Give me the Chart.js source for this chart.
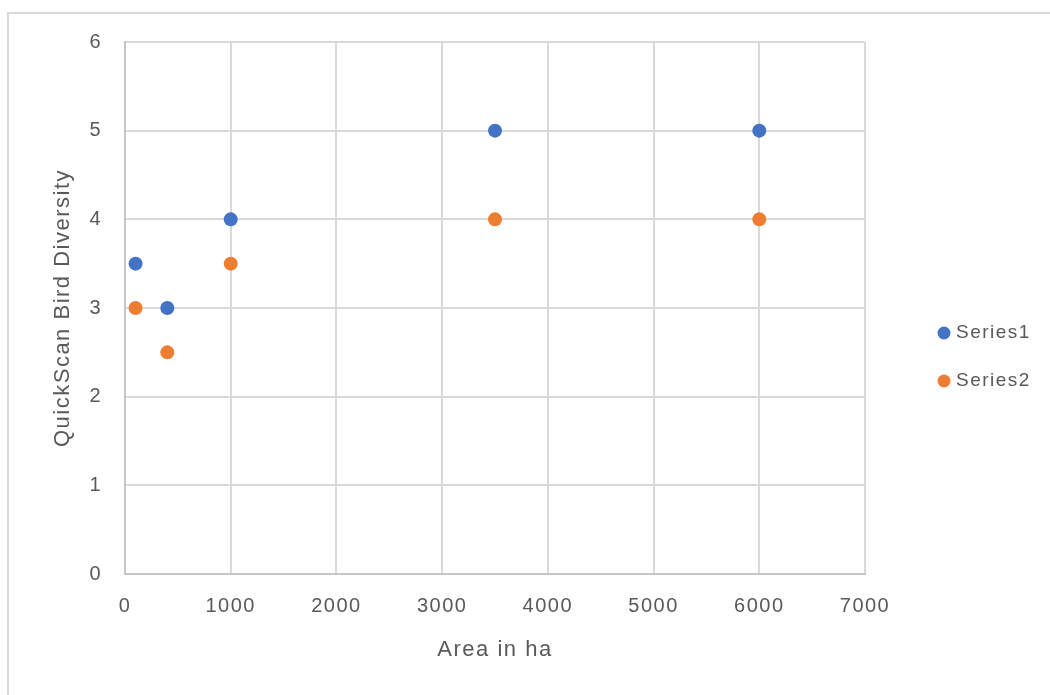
<!DOCTYPE html>
<html>
<head>
<meta charset="utf-8">
<script src="https://cdn.jsdelivr.net/npm/chart.js@4/dist/chart.umd.min.js"></script>
<style>
  html,body{margin:0;padding:0;background:#fff;}
  canvas{display:block;}
</style>
</head>
<body>
<canvas id="c" width="1050" height="695"></canvas>
<script>
const seriesNames = ['Series1', 'Series2'];
const areaHa = [100, 400, 1000, 3500, 6000];
const series1 = [3.5, 3, 4, 5, 5];
const series2 = [3, 2.5, 3.5, 4, 4];
const xTickValues = [0, 1000, 2000, 3000, 4000, 5000, 6000, 7000];
const yTickValues = [0, 1, 2, 3, 4, 5, 6];
const colors = ['#4472C4', '#ED7D31'];
const xTitle = 'Area in ha';
const yTitle = 'QuickScan Bird Diversity';

const FONT = "'Liberation Sans', Arial, sans-serif";
const GRAY = '#595959';

const spacingPlugin = {
  id: 'spacing',
  beforeUpdate(c) { c.ctx.letterSpacing = '1.5px'; },
  beforeLayout(c) { c.ctx.letterSpacing = '1.5px'; },
  beforeDraw(c) {
    const ctx = c.ctx;
    ctx.letterSpacing = '1.5px';
    ctx.save();
    ctx.strokeStyle = '#d9d9d9';
    ctx.lineWidth = 2;
    ctx.strokeRect(8, 13, 1300, 1300);
    ctx.restore();
  }
};

const legendPlugin = {
  id: 'customLegend',
  afterDraw(c) {
    const ctx = c.ctx;
    ctx.save();
    ctx.letterSpacing = '1.5px';
    c.data.datasets.forEach((ds, i) => {
      const y = 333 + i * 48;
      ctx.beginPath();
      ctx.fillStyle = ds.backgroundColor;
      ctx.arc(944, y, 6.5, 0, Math.PI * 2);
      ctx.fill();
      ctx.fillStyle = GRAY;
      ctx.font = "19px " + FONT;
      ctx.textBaseline = 'middle';
      ctx.textAlign = 'left';
      ctx.fillText(ds.label, 956, y);
    });
    ctx.restore();
  }
};

const makeData = (vals) => areaHa.map((x, i) => ({x: x, y: vals[i]}));

new Chart(document.getElementById('c'), {
  type: 'scatter',
  data: {
    datasets: [
      {label: seriesNames[0], data: makeData(series1), backgroundColor: colors[0], borderColor: colors[0], pointRadius: 7, pointBorderWidth: 0},
      {label: seriesNames[1], data: makeData(series2), backgroundColor: colors[1], borderColor: colors[1], pointRadius: 7, pointBorderWidth: 0}
    ]
  },
  options: {
    responsive: false,
    animation: false,
    layout: {padding: {left: 0, top: 42, right: 185, bottom: 0}},
    plugins: {legend: {display: false}, tooltip: {enabled: false}},
    scales: {
      x: {
        type: 'linear',
        min: 0, max: 7000,
        afterBuildTicks(s) { s.ticks = xTickValues.map(v => ({value: v})); },
        afterFit(s) { s.height = 121; },
        grid: {color: '#d9d9d9', lineWidth: 2, drawTicks: false},
        border: {color: '#c6c6c6', width: 2},
        ticks: {color: GRAY, font: {family: FONT, size: 20}, padding: 20, maxRotation: 0, autoSkip: false, callback: (v) => String(v)},
        title: {display: true, text: xTitle, color: GRAY, font: {family: FONT, size: 22}, padding: {top: 0, bottom: 32}}
      },
      y: {
        type: 'linear',
        min: 0, max: 6,
        afterBuildTicks(s) { s.ticks = yTickValues.map(v => ({value: v})); },
        afterFit(s) { s.width = 125; },
        grid: {color: '#d9d9d9', lineWidth: 2, drawTicks: false},
        border: {color: '#c6c6c6', width: 2},
        ticks: {color: GRAY, font: {family: FONT, size: 20}, padding: 23, autoSkip: false, callback: (v) => String(v)},
        title: {display: true, text: yTitle, color: GRAY, font: {family: FONT, size: 22}, padding: {top: 50, bottom: 0}}
      }
    }
  },
  plugins: [spacingPlugin, legendPlugin]
});
</script>
</body>
</html>
